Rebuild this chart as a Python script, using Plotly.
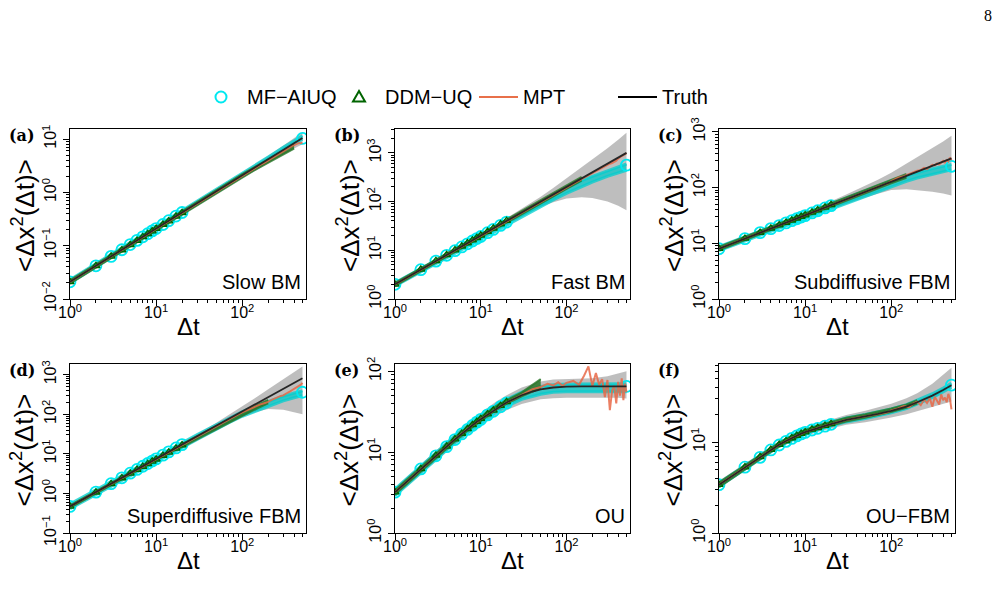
import math
import plotly.graph_objects as go

# ---------------- data ----------------
T = [1, 2, 3, 4, 5, 6, 7, 8, 9, 10, 12, 14, 17, 20, 25, 30, 40, 50, 70, 100, 150, 200, 300, 400, 500]
MARK_T = [1, 2, 3, 4, 5, 6, 7, 8, 9, 10, 12, 14, 17, 20]
END_T = 500
G_T = [1, 2, 3, 5, 7, 10, 15, 20, 30, 50, 70, 100, 150, 200, 300, 400, 500]
MPT_T = [1, 2, 3, 4, 5, 7, 10, 14, 20, 28, 40, 50, 60, 70, 80, 90, 100, 120, 140, 160, 180,
         200, 220, 240, 260, 280, 300, 320, 340, 360, 380, 400, 420, 440, 460, 480, 500]

NAMES = ["Slow BM", "Fast BM", "Subdiffusive FBM", "Superdiffusive FBM", "OU", "OU\u2212FBM"]
LETTERS = ["(a)", "(b)", "(c)", "(d)", "(e)", "(f)"]

truth_a = [0.021, 0.042, 0.063, 0.083, 0.104, 0.125, 0.146, 0.167, 0.188, 0.21, 0.25, 0.29, 0.36, 0.42, 0.52, 0.63, 0.84, 1.05, 1.5, 2.1, 3.1, 4.2, 6.3, 8.4, 10.5]
truth_b = [2, 4, 6, 8, 10, 12, 14, 16, 18, 20, 24, 28, 34, 40, 50, 60, 80, 100, 140, 200, 300, 400, 600, 800, 1000]
truth_c = [8, 12.1, 15.5, 18.4, 21, 23.4, 25.7, 27.9, 29.9, 31.8, 35.6, 39, 43.8, 48.3, 55.2, 61.6, 73.2, 83.7, 102, 127, 162, 192, 245, 291, 333]
truth_d = [0.47, 1.08, 1.76, 2.48, 3.24, 4.04, 4.86, 5.70, 6.57, 7.45, 9.27, 11.2, 14.1, 17.1, 22.4, 27.8, 39.3, 51.4, 77.1, 118, 192, 271, 441, 624, 814]
truth_e = [3.2, 6.2, 9.0, 11.7, 14.4, 16.9, 19.3, 21.6, 23.8, 25.6, 29.2, 32.4, 37.0, 41.1, 46.6, 50.5, 56.2, 59.7, 63.0, 64.6, 65, 65, 65, 65, 65]
truth_f = [3.4, 5.3, 6.8, 8.3, 9.4, 10.3, 11.1, 11.8, 12.4, 12.9, 13.7, 14.3, 15.1, 15.8, 16.8, 17.6, 18.5, 19.2, 20.5, 22.1, 24.6, 27.5, 32.5, 37.5, 42.3]

mf_pts_a = [0.021, 0.042, 0.063, 0.084, 0.105, 0.126, 0.147, 0.168, 0.19, 0.21, 0.25, 0.295, 0.36, 0.42]
mf_pts_b = [2, 4, 6, 7.9, 9.8, 11.7, 13.6, 15.5, 17.4, 19.2, 23, 26.8, 32.5, 38]
mf_pts_c = [8, 12.1, 15.5, 18.3, 20.8, 23.2, 25.4, 27.5, 29.5, 31.3, 35, 38.3, 43, 47.4]
mf_pts_d = [0.47, 1.08, 1.76, 2.48, 3.24, 4.04, 4.86, 5.7, 6.57, 7.45, 9.27, 11.2, 14.1, 17.1]
mf_pts_e = [3.2, 6.2, 9.0, 11.7, 14.3, 16.8, 19.1, 21.4, 23.5, 25.4, 28.9, 32.0, 36.5, 40.5]
mf_pts_f = [3.4, 5.3, 6.8, 8.2, 9.3, 10.2, 11.0, 11.7, 12.3, 12.8, 13.6, 14.2, 15.0, 15.7]
mf_end = [10.3, 560, 240, 360, 65, 42.5]

ddm_pts_a = [0.021, 0.042, 0.063, 0.083, 0.104, 0.125, 0.146, 0.167, 0.188, 0.21, 0.25, 0.29, 0.355, 0.415]
ddm_pts_b = [2, 4.05, 6.05, 8.05, 10.1, 12.1, 14.1, 16.1, 18.1, 20.2, 24.2, 28.3, 34.5, 40.5]
ddm_pts_c = [8, 12.2, 15.6, 18.5, 21.2, 23.6, 25.9, 28.1, 30.2, 32.1, 35.9, 39.4, 44.2, 48.8]
ddm_pts_d = [0.47, 1.07, 1.74, 2.45, 3.2, 3.98, 4.78, 5.6, 6.45, 7.3, 9.08, 10.9, 13.7, 16.6]
ddm_pts_e = [3.2, 6.2, 9.1, 11.8, 14.5, 17.0, 19.4, 21.7, 23.9, 25.9, 29.5, 32.8, 37.5, 41.8]
ddm_pts_f = [3.4, 5.3, 6.9, 8.3, 9.4, 10.3, 11.1, 11.8, 12.4, 12.9, 13.8, 14.4, 15.2, 15.9]

gray_lo_a = [0.019, 0.039, 0.058, 0.096, 0.134, 0.193, 0.285, 0.385, 0.575, 0.95, 1.32, 1.86, 2.7, 3.6, 5.2, 6.7, 8.0]
gray_hi_a = [0.023, 0.046, 0.069, 0.113, 0.159, 0.229, 0.34, 0.46, 0.69, 1.16, 1.63, 2.36, 3.55, 4.9, 7.6, 10.4, 13.5]
gray_lo_b = [1.8, 3.6, 5.4, 9.0, 12.6, 18, 26.5, 35, 50, 78, 97, 115, 122, 118, 100, 82, 66]
gray_hi_b = [2.2, 4.4, 6.6, 11, 15.6, 22.5, 34, 46, 72, 125, 190, 300, 500, 750, 1250, 1850, 2600]
gray_lo_c = [7.3, 11, 14, 19, 23, 28, 35, 41, 51, 66, 77, 90, 93, 90, 84, 78, 72]
gray_hi_c = [8.8, 13.3, 17.1, 23.2, 28.6, 36, 46.5, 57, 75, 107, 138, 185, 270, 350, 500, 670, 850]
gray_lo_d = [0.43, 0.99, 1.6, 2.95, 4.4, 6.75, 11, 15.4, 24.5, 43, 62, 88, 118, 135, 130, 115, 100]
gray_hi_d = [0.51, 1.18, 1.93, 3.55, 5.35, 8.2, 13.3, 19, 31.5, 61, 96, 155, 280, 430, 780, 1200, 1600]
gray_lo_e = [2.8, 5.4, 7.8, 12.3, 16.3, 21.3, 28, 33, 39.5, 45, 46.5, 47, 47, 47, 47, 47, 46]
gray_hi_e = [3.6, 7.1, 10.4, 16.8, 22.8, 30.7, 42, 50.5, 63, 75, 79, 80, 81, 82, 87, 93, 100]
gray_lo_f = [3.1, 4.85, 6.2, 8.6, 10.1, 11.7, 13.2, 14.1, 15.5, 16.6, 17.5, 18.7, 20.3, 22, 24.5, 26.5, 28]
gray_hi_f = [3.75, 5.8, 7.5, 10.3, 12.2, 14.2, 16.3, 17.6, 19.9, 22.2, 24.1, 26.5, 30.5, 34.5, 44, 55, 66]

mf_lo_a = [0.020, 0.040, 0.060, 0.099, 0.139, 0.2, 0.295, 0.40, 0.60, 1.0, 1.41, 2.02, 3.0, 4.05, 6.1, 8.2, 10.0]
mf_hi_a = [0.023, 0.046, 0.068, 0.112, 0.158, 0.226, 0.335, 0.455, 0.68, 1.13, 1.6, 2.28, 3.45, 4.6, 7.0, 9.4, 11.6]
mf_lo_b = [1.85, 3.6, 5.3, 8.7, 12, 17, 25, 33, 49, 80, 108, 148, 205, 252, 330, 390, 440]
mf_hi_b = [2.15, 4.2, 6.2, 10.2, 14, 19.8, 29, 38.5, 57, 94, 128, 192, 270, 330, 435, 515, 590]
mf_lo_c = [7.4, 11, 14, 18.8, 22.8, 28, 35.5, 42, 53, 70, 85, 104, 129, 148, 174, 192, 207]
mf_hi_c = [8.7, 13.1, 16.7, 22.5, 27.5, 34, 43, 51.5, 66, 89, 107, 131, 162, 186, 218, 241, 260]
mf_lo_d = [0.41, 0.94, 1.53, 2.8, 4.2, 6.35, 10.7, 14.4, 23, 41.8, 61, 89, 126, 161, 218, 261, 296]
mf_hi_d = [0.54, 1.24, 2.02, 3.7, 5.5, 8.4, 14.1, 19, 30.5, 55, 80.5, 117, 167, 213, 288, 345, 391]
mf_lo_e = [2.9, 5.6, 8.1, 13, 17.4, 23, 31, 37, 45, 52, 55, 56, 56, 56, 56, 56, 56]
mf_hi_e = [3.5, 6.8, 9.9, 15.9, 21.3, 28.2, 38, 45, 55, 65, 68, 69.5, 70, 70, 70, 70, 70]
mf_lo_f = [3.25, 5.05, 6.5, 9, 10.6, 12.3, 14, 15, 16.7, 18.2, 19.5, 21, 23.4, 26.1, 30.8, 35.6, 40.2]
mf_hi_f = [3.55, 5.55, 7.1, 9.8, 11.6, 13.5, 15.4, 16.6, 18.5, 20.2, 21.5, 23.2, 25.8, 28.9, 34.1, 39.4, 44.4]

ddm_lo_a = [0.0195, 0.039, 0.059, 0.097, 0.136, 0.195, 0.29, 0.39, 0.58, 0.96, 1.34, 1.9, 2.8, 3.6, 5.2, 6.6]
ddm_hi_a = [0.0225, 0.045, 0.067, 0.11, 0.155, 0.222, 0.33, 0.445, 0.665, 1.1, 1.55, 2.2, 3.2, 4.2, 6.2, 8.0]
ddm_lo_b = [1.85, 3.7, 5.6, 9.3, 13, 18.7, 28, 37.5, 56, 92, 128, 182, 270]
ddm_hi_b = [2.15, 4.3, 6.5, 10.8, 15.2, 21.7, 33, 44, 66, 110, 155, 220, 320]
ddm_lo_c = [7.5, 11.4, 14.6, 19.8, 24.2, 30, 38, 45.5, 58, 79, 96, 119, 150]
ddm_hi_c = [8.6, 13, 16.6, 22.5, 27.6, 34.2, 43.3, 52, 66.5, 91, 111, 138, 175]
ddm_lo_d = [0.43, 0.99, 1.6, 2.9, 4.35, 6.6, 11, 14.8, 23.5, 42, 62, 92, 142, 190]
ddm_hi_d = [0.5, 1.15, 1.86, 3.4, 5.1, 7.8, 13, 17.6, 28, 51, 75, 112, 172, 230]
ddm_lo_e = [3.0, 5.8, 8.5, 13.5, 18.3, 24.4, 33, 39.5, 49, 62]
ddm_hi_e = [3.4, 6.6, 9.6, 15.3, 20.6, 27.4, 37, 44, 55, 80]
ddm_lo_f = [3.2, 5.05, 6.5, 9.0, 10.6, 12.4, 14.1, 15.2, 16.9, 18.5, 19.8, 21.4, 23.8, 26.5]
ddm_hi_f = [3.6, 5.6, 7.2, 9.9, 11.7, 13.6, 15.5, 16.7, 18.6, 20.3, 21.7, 23.5, 26.0, 29.0]

mpt_a = [0.021, 0.042, 0.063, 0.083, 0.104, 0.146, 0.21, 0.29, 0.41, 0.58, 0.83, 1.03, 1.22, 1.42, 1.62, 1.83, 2.05, 2.45,
         2.85, 3.25, 3.6, 4.0, 4.35, 4.8, 5.2, 5.6, 5.95, 6.4, 6.8, 7.1, 7.5, 7.7, 8.1, 8.3, 8.5, 8.4, 8.6]
mpt_b = [2, 4, 6, 8, 10, 14, 20, 28, 40, 56, 80, 100, 120, 140, 158, 178, 198, 235, 275, 310, 350, 385, 420,
         455, 500, 545, 570, 600, 620, 650, 690, 760, 820, 860, 900, 950, 990]
mpt_c = [8, 12.1, 15.5, 18.4, 21, 25.7, 31.8, 39, 48.3, 58, 73, 84, 93, 104, 110, 118, 130, 150, 160, 175, 185,
         200, 205, 225, 215, 240, 255, 250, 270, 260, 285, 300, 280, 310, 295, 345, 310]
mpt_d = [0.47, 1.08, 1.76, 2.48, 3.24, 4.86, 7.45, 11.2, 17.1, 25.5, 39, 51, 63, 75, 87, 100, 112, 135, 158, 175,
         190, 205, 230, 245, 270, 290, 300, 330, 350, 380, 410, 440, 450, 480, 520, 560, 620]
mpt_e = [3.2, 6.2, 9.0, 11.7, 14.4, 19.3, 25.6, 32.4, 41.1, 49, 60, 64, 70, 67, 73, 66, 72, 76, 68, 88, 115,
         66, 95, 68, 80, 48, 78, 33, 58, 66, 40, 74, 50, 82, 44, 70, 55]
mpt_f = [3.4, 5.3, 6.8, 8.3, 9.4, 11.1, 12.9, 14.3, 15.8, 17.3, 18.6, 19.2, 19.7, 20.3, 20.8, 21.3, 22.4, 23.5,
         25.0, 24.2, 26.5, 27.8, 25.5, 29.5, 27, 30.5, 24.5, 31.5, 28.5, 26, 33.5, 29, 31.0, 27.5, 34, 30, 23]

TRUTH = [truth_a, truth_b, truth_c, truth_d, truth_e, truth_f]
MF_PTS = [mf_pts_a, mf_pts_b, mf_pts_c, mf_pts_d, mf_pts_e, mf_pts_f]
DDM_PTS = [ddm_pts_a, ddm_pts_b, ddm_pts_c, ddm_pts_d, ddm_pts_e, ddm_pts_f]
GRAY_LO = [gray_lo_a, gray_lo_b, gray_lo_c, gray_lo_d, gray_lo_e, gray_lo_f]
GRAY_HI = [gray_hi_a, gray_hi_b, gray_hi_c, gray_hi_d, gray_hi_e, gray_hi_f]
MF_LO = [mf_lo_a, mf_lo_b, mf_lo_c, mf_lo_d, mf_lo_e, mf_lo_f]
MF_HI = [mf_hi_a, mf_hi_b, mf_hi_c, mf_hi_d, mf_hi_e, mf_hi_f]
DDM_LO = [ddm_lo_a, ddm_lo_b, ddm_lo_c, ddm_lo_d, ddm_lo_e, ddm_lo_f]
DDM_HI = [ddm_hi_a, ddm_hi_b, ddm_hi_c, ddm_hi_d, ddm_hi_e, ddm_hi_f]
MPT = [mpt_a, mpt_b, mpt_c, mpt_d, mpt_e, mpt_f]

Y_RANGES = [(-2, 1.19), (0, 3.49), (0, 3.05), (-1, 3.27), (0, 2.09), (0, 1.86)]
X_RANGE = (0, 2.74)

# ---------------- layout helpers ----------------
W, H = 1003, 605
def px(x): return x / W
def py(y): return 1 - y / H

COLS = [(70, 306), (395, 630), (719, 955)]
ROWS = [(129, 299), (364, 533)]
SANS = "Liberation Sans, Arial, sans-serif"
SERIF = "DejaVu Serif, serif"

C_GRAY = "rgba(150,150,150,0.62)"
C_CYAN_FILL = "rgba(0,200,200,0.72)"
C_CYAN_EDGE = "rgba(0,205,205,0.75)"
C_CYAN = "#00E8F0"
C_GREEN_FILL = "rgba(40,118,40,0.85)"
C_GREEN_EDGE = "rgba(40,118,40,0.8)"
C_GREEN = "#006400"
C_MPT = "rgba(232,104,72,0.85)"
C_TRUTH = "#262626"

def sup(n):
    s = str(n).replace("-", "\u2212")
    return f"10<sup>{s}</sup>"

def minor_vals(lo, hi):
    vals = []
    for d in range(int(math.floor(lo)), int(math.ceil(hi)) + 1):
        for k in range(2, 10):
            v = k * 10 ** d
            if lo <= math.log10(v) <= hi:
                vals.append(v)
    return vals

fig = go.Figure()
layout = dict(width=W, height=H, margin=dict(l=0, r=0, t=0, b=0, autoexpand=False),
              paper_bgcolor="white", plot_bgcolor="white", showlegend=False)
annotations = []
shapes = []

for k in range(6):
    col, row = k % 3, k // 3
    xs = "x" if k == 0 else f"x{k+1}"
    ys = "y" if k == 0 else f"y{k+1}"
    n_ddm = len(DDM_LO[k])
    common = dict(xaxis=xs, yaxis=ys, hoverinfo="skip", showlegend=False)
    # gray band
    fig.add_trace(go.Scatter(x=G_T, y=GRAY_LO[k], mode="lines", line=dict(width=0), **common))
    fig.add_trace(go.Scatter(x=G_T, y=GRAY_HI[k], mode="lines", line=dict(width=0),
                             fill="tonexty", fillcolor=C_GRAY, **common))
    # MF-AIUQ band
    fig.add_trace(go.Scatter(x=G_T, y=MF_LO[k], mode="lines", line=dict(width=3, color=C_CYAN_EDGE), **common))
    fig.add_trace(go.Scatter(x=G_T, y=MF_HI[k], mode="lines", line=dict(width=3, color=C_CYAN_EDGE),
                             fill="tonexty", fillcolor=C_CYAN_FILL, **common))
    fig.add_trace(go.Scatter(x=MARK_T + [END_T], y=MF_PTS[k] + [mf_end[k]], mode="markers",
                             marker=dict(symbol="circle-open", size=11, color=C_CYAN,
                                         line=dict(width=1.8, color=C_CYAN)), **common))
    # DDM-UQ band
    fig.add_trace(go.Scatter(x=G_T[:n_ddm], y=DDM_LO[k], mode="lines",
                             line=dict(width=2, color=C_GREEN_EDGE), **common))
    fig.add_trace(go.Scatter(x=G_T[:n_ddm], y=DDM_HI[k], mode="lines", line=dict(width=2, color=C_GREEN_EDGE),
                             fill="tonexty", fillcolor=C_GREEN_FILL, **common))
    fig.add_trace(go.Scatter(x=MARK_T, y=DDM_PTS[k], mode="markers",
                             marker=dict(symbol="triangle-up-open", size=7, color=C_GREEN,
                                         line=dict(width=1.3, color=C_GREEN)), **common))
    # MPT
    fig.add_trace(go.Scatter(x=MPT_T, y=MPT[k], mode="lines", line=dict(width=2, color=C_MPT), **common))
    # Truth
    fig.add_trace(go.Scatter(x=T, y=TRUTH[k], mode="lines", line=dict(width=1.8, color=C_TRUTH), **common))

    x0, x1 = COLS[col]
    y0, y1 = ROWS[row]
    ylo, yhi = Y_RANGES[k]
    axis_common = dict(type="log", showline=True, linecolor="black", linewidth=1.3, mirror=True,
                       ticks="outside", ticklen=6, tickwidth=1.2, tickcolor="black",
                       showgrid=False, zeroline=False,
                       tickfont=dict(size=16, family=SANS, color="black"))
    xkey = "xaxis" if k == 0 else f"xaxis{k+1}"
    ykey = "yaxis" if k == 0 else f"yaxis{k+1}"
    layout[xkey] = dict(axis_common, range=list(X_RANGE), domain=[px(x0), px(x1)], anchor=ys,
                        tickvals=[1, 10, 100], ticktext=[sup(0), sup(1), sup(2)],
                        ticklabelstandoff=-7,
                        minor=dict(ticks="outside", ticklen=3, tickwidth=1, tickcolor="black",
                                   tickvals=minor_vals(*X_RANGE)))
    decs = [d for d in range(-3, 5) if ylo - 1e-9 <= d <= yhi]
    layout[ykey] = dict(axis_common, range=[ylo, yhi], domain=[py(y1), py(y0)], anchor=xs,
                        tickangle=-90, tickvals=[10 ** d for d in decs], ticktext=[sup(d) for d in decs],
                        ticklabelstandoff=0,
                        minor=dict(ticks="outside", ticklen=3, tickwidth=1, tickcolor="black",
                                   tickvals=minor_vals(ylo, yhi)))

    # axis titles
    annotations.append(dict(text="\u0394t", x=px((x0 + x1) / 2), y=py(y1 + 27), xref="paper", yref="paper",
                            showarrow=False, font=dict(size=24, family=SANS, color="black"),
                            xanchor="center", yanchor="middle"))
    annotations.append(dict(text="&lt;\u0394x<sup>2</sup>(\u0394t)&gt;", x=px(x0 - 47), y=py((y0 + y1) / 2 + 2),
                            xref="paper", yref="paper", showarrow=False, textangle=-90,
                            font=dict(size=26, family=SANS, color="black"),
                            xanchor="center", yanchor="middle"))
    # panel letter
    annotations.append(dict(text=f"<b>{LETTERS[k]}</b>", x=px(x0 - 63), y=py(y0 + 6),
                            xref="paper", yref="paper", showarrow=False,
                            font=dict(size=16, family=SERIF, color="black"),
                            xanchor="left", yanchor="middle"))
    # panel name
    annotations.append(dict(text=NAMES[k], x=px(x1 - 3), y=py(y1 - 17), xref="paper", yref="paper",
                            showarrow=False, font=dict(size=20, family=SANS, color="black"),
                            xanchor="right", yanchor="middle"))

# ---------------- legend (top) ----------------
LEG_Y = 97
shapes.append(dict(type="circle", xref="paper", yref="paper", x0=px(215.5), x1=px(226.5),
                   y0=py(LEG_Y + 5.5), y1=py(LEG_Y - 5.5), line=dict(color=C_CYAN, width=2)))
shapes.append(dict(type="path", xref="paper", yref="paper",
                   path=f"M {px(353)} {py(LEG_Y + 4.5)} L {px(365)} {py(LEG_Y + 4.5)} L {px(359)} {py(LEG_Y - 6)} Z",
                   line=dict(color=C_GREEN, width=2)))
shapes.append(dict(type="line", xref="paper", yref="paper", x0=px(479), x1=px(518),
                   y0=py(LEG_Y), y1=py(LEG_Y), line=dict(color="#E8704A", width=2)))
shapes.append(dict(type="line", xref="paper", yref="paper", x0=px(618), x1=px(657),
                   y0=py(LEG_Y), y1=py(LEG_Y), line=dict(color="black", width=2)))
for txt, xl in [("MF\u2212AIUQ", 245), ("DDM\u2212UQ", 383), ("MPT", 521), ("Truth", 660)]:
    annotations.append(dict(text=txt, x=px(xl), y=py(LEG_Y), xref="paper", yref="paper", showarrow=False,
                            font=dict(size=20, family=SANS, color="black"), xanchor="left", yanchor="middle"))

# page number
annotations.append(dict(text="8", x=px(988), y=py(16), xref="paper", yref="paper", showarrow=False,
                        font=dict(size=16, family="Liberation Serif, serif", color="black"),
                        xanchor="center", yanchor="middle"))

layout["annotations"] = annotations
layout["shapes"] = shapes
fig.update_layout(**layout)
fig.write_html("out.html")
